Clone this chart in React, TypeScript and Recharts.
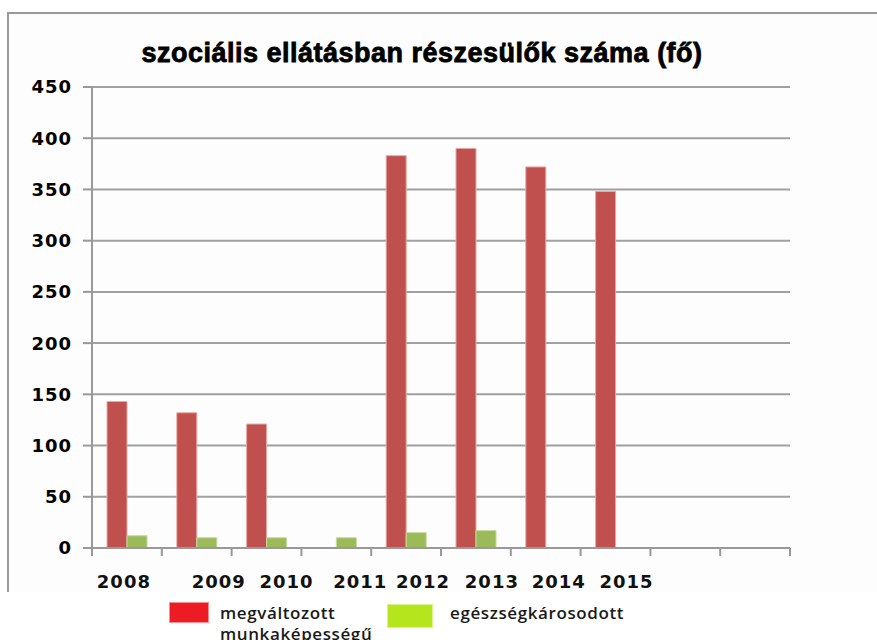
import { BarChart, Bar, XAxis, YAxis, CartesianGrid } from 'recharts'

const years = ['2008', '2009', '2010', '2011', '2012', '2013', '2014', '2015', '', '']
const megvaltozott = [143, 132, 121, null, 383, 390, 372, 348, null, null]
const egeszseg = [12, 10, 10, 10, 15, 17, null, null, null, null]
const yTicks = [0, 50, 100, 150, 200, 250, 300, 350, 400, 450]
const seriesNames = ['megváltozott munkaképességű', 'egészségkárosodott']

const title = 'szociális ellátásban részesülők száma (fő)'

const data = years.map((year, i) => ({
  year,
  megvaltozott: megvaltozott[i],
  egeszseg: egeszseg[i],
}))

// plot box
const W = 877
const H = 640
const plotLeft = 92
const plotRight = 790
const plotTop = 87
const plotBottom = 548
const xAxisH = 40
const halfBand = (plotRight - plotLeft) / years.length / 2

// the year labels sit off-centre in the original
const labelShift = [-3, 22, 20, 24, 17, 16, 13, 11, 0, 0]

const legendLayout = [
  { color: '#ed1c24', box: { left: 169, top: 602, width: 40, height: 21 }, textLeft: 220 },
  { color: '#b5e61d', box: { left: 387, top: 604, width: 46, height: 24 }, textLeft: 450 },
]

const axisFont = { fontFamily: '"DejaVu Sans", sans-serif', fontWeight: 700, fontSize: 18 }

function XTick(props: any) {
  const { x, y, payload } = props
  const i = props.index ?? payload.index
  return (
    <g>
      <line x1={x - halfBand} x2={x - halfBand} y1={y} y2={y + 8} stroke="#999" strokeWidth={2} />
      {i === years.length - 1 && (
        <line x1={x + halfBand} x2={x + halfBand} y1={y} y2={y + 8} stroke="#999" strokeWidth={2} />
      )}
      <text
        x={x + (labelShift[i] ?? 0)}
        y={y + 40}
        textAnchor="middle"
        fill="#111"
        letterSpacing={1}
        style={axisFont}
      >
        {payload.value}
      </text>
    </g>
  )
}

export default function App() {
  return (
    <div style={{ position: 'absolute', left: 0, top: 0, width: W, height: H, background: '#fff', overflow: 'hidden' }}>
      <div
        style={{
          position: 'absolute', left: 7, top: 12, width: W - 7, height: 578,
          borderTop: '2px solid #999', borderLeft: '2px solid #999', background: '#fdfdfd',
        }}
      />
      <div
        style={{
          position: 'absolute', left: 0, top: 38, width: 844, textAlign: 'center',
          fontFamily: '"Liberation Sans", Arial, sans-serif', fontWeight: 700, fontSize: 27,
          lineHeight: '30px', letterSpacing: 0.5, color: '#000', WebkitTextStroke: '0.8px #000',
        }}
      >
        {title}
      </div>
      <div style={{ position: 'absolute', left: 0, top: 0 }}>
        <BarChart
          width={W}
          height={H}
          data={data}
          barSize={20}
          barGap={0}
          margin={{ top: plotTop, right: W - plotRight, left: 0, bottom: H - plotBottom - xAxisH }}
        >
          <CartesianGrid vertical={false} stroke="#a0a0a0" strokeWidth={2} />
          <XAxis
            dataKey="year"
            height={xAxisH}
            tickLine={false}
            tickSize={0}
            tickMargin={0}
            axisLine={{ stroke: '#999', strokeWidth: 2 }}
            tick={<XTick />}
            interval={0}
          />
          <YAxis
            width={plotLeft}
            domain={[0, 450]}
            ticks={yTicks}
            interval={0}
            tickSize={9}
            tickMargin={11}
            axisLine={{ stroke: '#999', strokeWidth: 2 }}
            tickLine={{ stroke: '#999', strokeWidth: 2 }}
            tick={{ fill: '#000', letterSpacing: 1, ...axisFont }}
          />
          <Bar dataKey="megvaltozott" name={seriesNames[0]} fill="#c0504d" stroke="#e8a8a6" strokeWidth={1} isAnimationActive={false} />
          <Bar dataKey="egeszseg" name={seriesNames[1]} fill="#9bbb59" stroke="#c5d99f" strokeWidth={1} isAnimationActive={false} />
        </BarChart>
      </div>
      {seriesNames.map((name, i) => (
        <div key={name}>
          <div
            style={{
              position: 'absolute', ...legendLayout[i].box,
              background: legendLayout[i].color, boxSizing: 'border-box', border: '1px solid rgba(255,255,255,0.5)',
            }}
          />
          <div
            style={{
              position: 'absolute', left: legendLayout[i].textLeft, top: 602, width: 170,
              fontFamily: '"Open Sans", sans-serif', fontWeight: 600, fontSize: 17,
              lineHeight: '21px', letterSpacing: 0.6, color: '#1a1a1a',
            }}
          >
            {name}
          </div>
        </div>
      ))}
    </div>
  )
}
